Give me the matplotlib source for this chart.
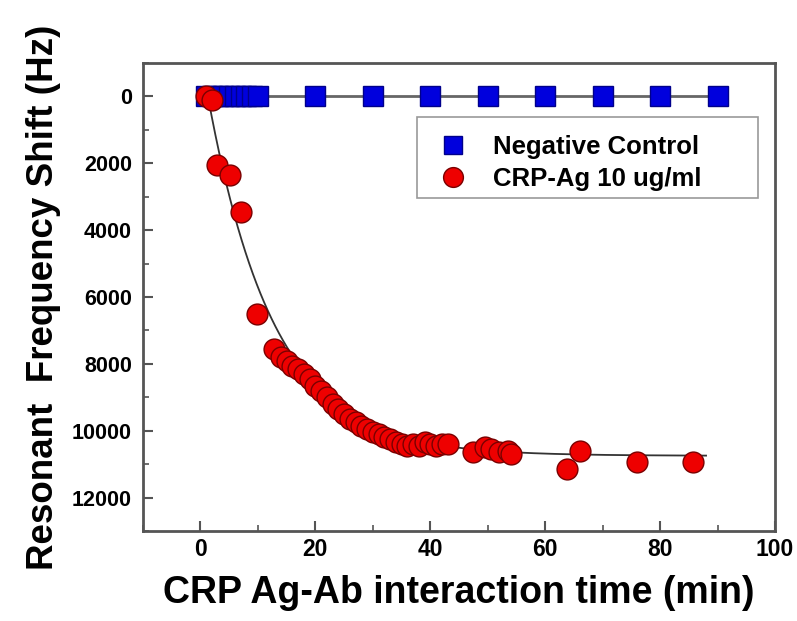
import numpy as np
import matplotlib
matplotlib.use("Agg")
import matplotlib.pyplot as plt
from matplotlib.ticker import MultipleLocator
from matplotlib.patches import Rectangle

# ---- data ----
neg_x = [1, 2, 3, 4, 5, 6, 7, 8, 9, 10, 20, 30, 40, 50, 60, 70, 80, 90]
neg_y = [0] * len(neg_x)
neg_line_x = [0, 90]
neg_line_y = [0, 0]

crp_x = [1, 2, 2.9, 5.2, 7.0, 9.9, 12.8,
         14, 15, 16, 17, 18, 19, 20, 21, 22, 23, 24, 25, 26, 27, 28, 29,
         30, 31, 32, 33, 34, 35, 36, 37, 38, 39, 40, 41, 42, 43,
         47.5, 49.5, 50.5, 52, 53.5, 54, 63.8, 66.1, 75.9, 85.8]
crp_y = [0, 100, 2050, 2350, 3450, 6500, 7550,
         7800, 7900, 8050, 8150, 8300, 8450, 8650, 8800, 9000, 9200, 9350, 9500, 9650, 9750, 9850, 9950,
         10050, 10100, 10200, 10250, 10350, 10400, 10450, 10400, 10450, 10350, 10400, 10450, 10400, 10400,
         10650, 10500, 10550, 10650, 10600, 10700, 11150, 10600, 10950, 10950]

# exponential fit parameters
fit_A = 10750
fit_x0 = 1.3
fit_tau = 11.5
fit_xmax = 88

x_ticks = [0, 20, 40, 60, 80, 100]
y_ticks = [0, 2000, 4000, 6000, 8000, 10000, 12000]

# ---- figure ----
plt.rcParams['font.family'] = ['Liberation Sans', 'DejaVu Sans']
fig = plt.figure(figsize=(7.97, 6.21), dpi=100)
ax = fig.add_axes([0.1794, 0.1449, 0.9724 - 0.1794, 0.8986 - 0.1449])

fx = np.linspace(fit_x0, fit_xmax, 400)
fy = fit_A * (1 - np.exp(-(fx - fit_x0) / fit_tau))

ax.plot(neg_line_x, neg_line_y, color='#666666', lw=2.0, zorder=1)
ax.plot(neg_x, neg_y, linestyle='none', marker='s', markersize=14,
        markerfacecolor='#0000DD', markeredgecolor='#00008B', markeredgewidth=1.0,
        label='Negative Control', zorder=2)
ax.plot(fx, fy, color='#333333', lw=1.3, zorder=3)
ax.plot(crp_x, crp_y, linestyle='none', marker='o', markersize=15,
        markerfacecolor='#EE0000', markeredgecolor='#7A0000', markeredgewidth=1.0,
        label='CRP-Ag 10 ug/ml', zorder=4)

ax.set_xlim(-10, 100)
ax.set_ylim(13000, -1000)
ax.set_xticks(x_ticks)
ax.set_yticks(y_ticks)
ax.xaxis.set_minor_locator(MultipleLocator(10))
ax.yaxis.set_minor_locator(MultipleLocator(1000))

for s in ax.spines.values():
    s.set_color('#555555')
    s.set_linewidth(2.0)

ax.tick_params(axis='both', which='major', direction='in', length=7, width=1.5,
               color='#555555', top=False, right=False)
ax.tick_params(axis='both', which='minor', direction='in', length=4, width=1.2,
               color='#555555', top=False, right=False)
ax.tick_params(axis='x', labelsize=16.5, pad=5)
ax.tick_params(axis='y', labelsize=15.5, pad=8)
for lab in ax.get_xticklabels() + ax.get_yticklabels():
    lab.set_fontweight('bold')

ax.set_xlabel('CRP Ag-Ab interaction time (min)', fontsize=27, fontweight='bold', labelpad=10)
ax.set_ylabel('Resonant  Frequency Shift (Hz)', fontsize=26.5, fontweight='bold', labelpad=8)

# legend frame
frame = Rectangle((0.4335, 0.7115), 0.973 - 0.4335, 0.8846 - 0.7115,
                  transform=ax.transAxes, facecolor='white', edgecolor='#999999',
                  linewidth=1.2, zorder=5)
ax.add_patch(frame)
leg = ax.legend(loc='upper left', bbox_to_anchor=(0.4272, 0.8932),
                prop={'weight': 'bold', 'size': 18.5}, frameon=False,
                markerscale=0.95, handletextpad=0.85,
                borderpad=0.35, labelspacing=0.3, handlelength=1.4)
leg.set_zorder(6)

fig.savefig('out.png', dpi=100)
